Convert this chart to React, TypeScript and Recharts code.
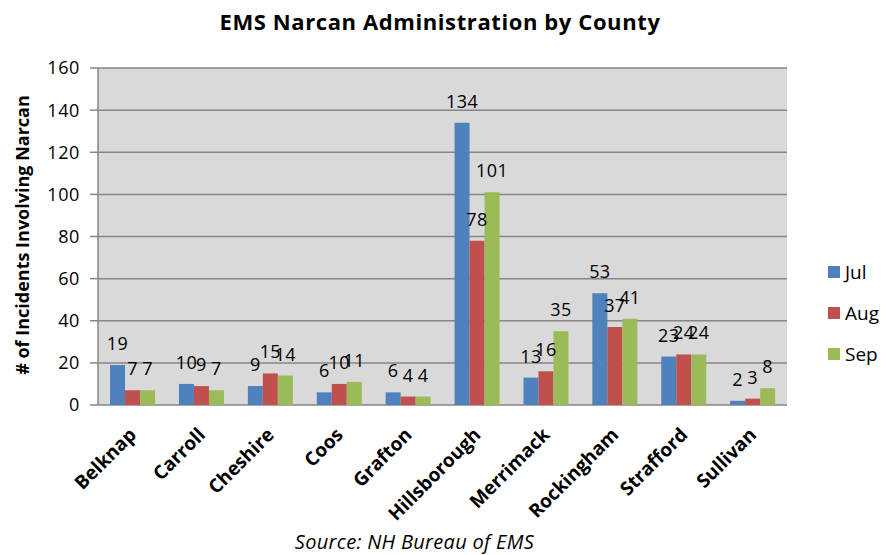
import { BarChart, Bar, XAxis, YAxis, CartesianGrid, LabelList } from 'recharts'

const counties = ['Belknap', 'Carroll', 'Cheshire', 'Coos', 'Grafton', 'Hillsborough', 'Merrimack', 'Rockingham', 'Strafford', 'Sullivan']
const jul = [19, 10, 9, 6, 6, 134, 13, 53, 23, 2]
const aug = [7, 9, 15, 10, 4, 78, 16, 37, 24, 3]
const sep = [7, 7, 14, 11, 4, 101, 35, 41, 24, 8]
const yTicks = [0, 20, 40, 60, 80, 100, 120, 140, 160]
const edgeTicks = counties.map((_, i) => i).concat(counties.length)

const series = [
  { key: 'jul', name: 'Jul', color: '#4f81bd' },
  { key: 'aug', name: 'Aug', color: '#c0504d' },
  { key: 'sep', name: 'Sep', color: '#9bbb59' },
]

const data = counties.map((county, i) => ({ county, idx: i + 0.5, jul: jul[i], aug: aug[i], sep: sep[i] }))

const FONT = '"Open Sans", Lato, sans-serif'

function CountyTick({ x, y, payload }: any) {
  const ax = x + 5
  const ay = y + 23
  return (
    <text
      x={ax}
      y={ay}
      transform={`rotate(-45, ${ax}, ${ay})`}
      textAnchor="end"
      fontFamily={FONT}
      fontWeight={700}
      fontSize={19}
      fill="#000"
    >
      {payload.value}
    </text>
  )
}

function LegendBox() {
  return (
    <div style={{ position: 'absolute', left: 828, top: 251, fontFamily: FONT, fontSize: 19, color: '#000' }}>
      {series.map((s) => (
        <div key={s.key} style={{ display: 'flex', alignItems: 'center', height: 41 }}>
          <span style={{ width: 12, height: 12, background: s.color, marginRight: 5, display: 'inline-block' }} />
          {s.name}
        </div>
      ))}
    </div>
  )
}

export default function App() {
  return (
    <div style={{ position: 'absolute', left: 0, top: 0, width: 892, height: 555, background: '#fff', overflow: 'hidden' }}>
      <div
        style={{
          position: 'absolute', left: 0, top: 6, width: 880, textAlign: 'center',
          fontFamily: FONT, fontWeight: 700, fontSize: 22, letterSpacing: 0.6, color: '#000',
          whiteSpace: 'nowrap', lineHeight: 'normal',
        }}
      >
        EMS Narcan Administration by County
      </div>
      <div style={{ position: 'absolute', left: 22, top: 236, width: 0, height: 0 }}>
        <div
          style={{
            position: 'absolute', left: -200, top: -13, width: 400, textAlign: 'center',
            transform: 'rotate(-90deg)', fontFamily: FONT, fontWeight: 700, fontSize: 18,
            whiteSpace: 'nowrap', color: '#000',
          }}
        >
          # of Incidents Involving Narcan
        </div>
      </div>
      <div
        style={{
          position: 'absolute', left: 0, top: 528, width: 829, textAlign: 'center',
          fontFamily: FONT, fontStyle: 'italic', fontSize: 20, letterSpacing: 0.3, color: '#000',
          whiteSpace: 'nowrap', lineHeight: 'normal',
        }}
      >
        Source: NH Bureau of EMS
      </div>
      <BarChart
        width={892}
        height={555}
        data={data}
        margin={{ top: 68, right: 105, bottom: 50, left: 0 }}
        barCategoryGap="17.5%"
        barGap={0}
        style={{ position: 'absolute', left: 0, top: 0 }}
      >
        <CartesianGrid vertical={false} stroke="#868686" strokeWidth={1.5} fill="#d9d9d9" />
        <XAxis
          xAxisId="edge"
          dataKey="idx"
          type="number"
          domain={[0, counties.length]}
          ticks={edgeTicks}
          tick={false}
          height={0}
          stroke="#868686"
          strokeWidth={1.5}
          tickSize={7}
        />
        <XAxis
          dataKey="county"
          interval={0}
          axisLine={false}
          tickLine={false}
          tick={<CountyTick />}
          height={100}
        />
        <YAxis
          domain={[0, 160]}
          ticks={yTicks}
          width={98}
          stroke="#868686"
          strokeWidth={1.5}
          tickSize={8}
          tickMargin={10}
          tick={{ fontFamily: FONT, fontSize: 18, fill: '#000', letterSpacing: 0.6 }}
        />
        {series.map((s) => (
          <Bar key={s.key} dataKey={s.key} name={s.name} fill={s.color} isAnimationActive={false}>
            <LabelList
              dataKey={s.key}
              position="top"
              offset={15}
              style={{ fontFamily: FONT, fontSize: 18, fill: '#000', letterSpacing: 0.4 }}
            />
          </Bar>
        ))}
      </BarChart>
      <LegendBox />
    </div>
  )
}
